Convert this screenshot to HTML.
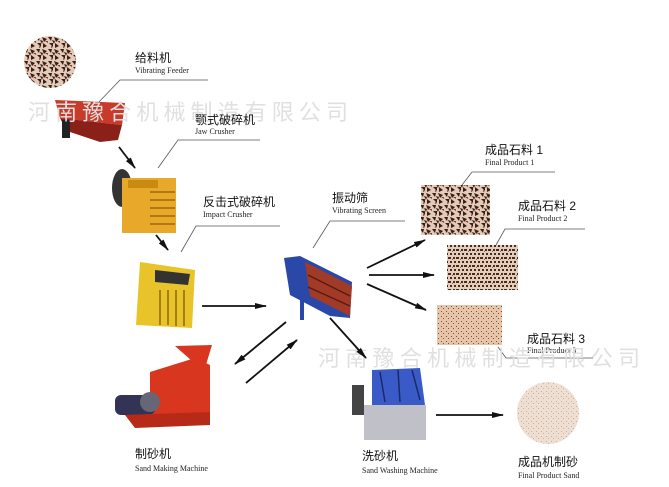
<!DOCTYPE html>
<html><head><meta charset="utf-8"><style>
html,body{margin:0;padding:0;background:#fff;}
svg{display:block;}
.cn{font-family:"Liberation Sans","Noto Sans CJK SC",sans-serif;font-size:12px;fill:#111;}
.en{font-family:"Liberation Serif",serif;font-size:8px;fill:#222;}
.wm{font-family:"Liberation Sans","Noto Sans CJK SC",sans-serif;font-size:22px;fill:#e0e0e0;}
</style></head><body>
<svg width="669" height="487" viewBox="0 0 669 487" xmlns="http://www.w3.org/2000/svg">
<defs>
<pattern id="g1" width="12" height="12" patternUnits="userSpaceOnUse">
<rect width="12" height="12" fill="#e2cbb8"/>
<path d="M0 1l4 0-1 4zM6 1l5 2-3 3zM1 7l4 0 0 4zM7 7l4 3-4 2zM4 4l3 1-1 3z" fill="#3a1f18"/>
<path d="M9 5l3 0 0 2zM3 10l2 1-2 1z" fill="#8a3a2a"/>
</pattern>
<pattern id="g2" width="8" height="8" patternUnits="userSpaceOnUse">
<rect width="8" height="8" fill="#e2cfbb"/>
<path d="M0 1h3v2h-3zM5 1h2v2h-2zM2 5h2v2h-2zM6 5h2v2h-2z" fill="#4a2a1e"/>
<path d="M4 3h1v1h-1z" fill="#9a5a3a"/>
</pattern>
<pattern id="g3" width="5" height="5" patternUnits="userSpaceOnUse">
<rect width="5" height="5" fill="#e5c6aa"/>
<path d="M1 1h1v1h-1zM3 3h1v1h-1z" fill="#8a4a30"/>
</pattern>
<pattern id="g4" width="5" height="5" patternUnits="userSpaceOnUse">
<rect width="5" height="5" fill="#eedfd2"/>
<path d="M1 1h1v1h-1zM3 3h1v1h-1z" fill="#cbb2a0"/>
</pattern>
<marker id="ah" markerWidth="12" markerHeight="6" refX="11" refY="3" orient="auto" markerUnits="userSpaceOnUse"><path d="M0 0L12 3L0 6z" fill="#111"/></marker>
</defs>
<rect width="669" height="487" fill="#fff"/>

<circle cx="50" cy="62" r="26" fill="url(#g1)"/>
<text x="135" y="62" class="cn">给料机</text>
<text x="135" y="73" class="en">Vibrating Feeder</text>
<polyline points="97,104 120,80 208,80" fill="none" stroke="#555" stroke-width="0.8"/>

<polygon points="55,100 125,103 122,125 60,118" fill="#c83a2a"/>
<polygon points="60,118 122,125 118,140 100,142 70,132 65,128" fill="#8a2018"/>
<rect x="62" y="120" width="8" height="18" fill="#222"/>

<text x="28" y="120" class="wm" textLength="320">河南豫合机械制造有限公司</text>

<text x="195" y="124" class="cn">颚式破碎机</text>
<text x="195" y="134" class="en">Jaw Crusher</text>
<polyline points="158,168 178,140 260,140" fill="none" stroke="#555" stroke-width="0.8"/>
<line x1="119" y1="147" x2="135" y2="168" stroke="#111" stroke-width="1.8" marker-end="url(#ah)"/>

<ellipse cx="122" cy="188" rx="10" ry="19" fill="#333"/>
<rect x="122" y="178" width="54" height="55" fill="#e8a82a"/>
<rect x="128" y="180" width="30" height="8" fill="#c88a10"/>
<g stroke="#9a6a10" stroke-width="1.5"><line x1="150" y1="192" x2="175" y2="192"/><line x1="150" y1="200" x2="175" y2="200"/><line x1="150" y1="208" x2="175" y2="208"/><line x1="150" y1="216" x2="175" y2="216"/><line x1="150" y1="224" x2="175" y2="224"/></g>

<text x="203" y="206" class="cn">反击式破碎机</text>
<text x="203" y="217" class="en">Impact Crusher</text>
<polyline points="181,252 196,226 280,226" fill="none" stroke="#555" stroke-width="0.8"/>
<line x1="156" y1="235" x2="168" y2="250" stroke="#111" stroke-width="1.8" marker-end="url(#ah)"/>

<polygon points="140,262 195,270 192,328 136,325" fill="#e8c42a"/>
<polygon points="155,270 190,274 188,285 155,282" fill="#333"/>
<g stroke="#8a6a10" stroke-width="1.5"><line x1="160" y1="290" x2="160" y2="325"/><line x1="168" y1="290" x2="168" y2="325"/><line x1="176" y1="290" x2="176" y2="326"/><line x1="184" y1="290" x2="184" y2="326"/></g>
<line x1="202" y1="306" x2="266" y2="306" stroke="#111" stroke-width="1.8" marker-end="url(#ah)"/>

<text x="332" y="202" class="cn">振动筛</text>
<text x="332" y="213" class="en">Vibrating Screen</text>
<polyline points="313,248 330,221 405,221" fill="none" stroke="#555" stroke-width="0.8"/>
<polygon points="284,258 300,256 352,282 350,318 330,316 290,295" fill="#2a48a8"/>
<polygon points="305,262 352,286 350,316 310,296" fill="#a23a28"/>
<g stroke="#5a1a10" stroke-width="1.5"><line x1="308" y1="275" x2="350" y2="296"/><line x1="308" y1="287" x2="350" y2="306"/></g>
<line x1="302" y1="295" x2="302" y2="320" stroke="#2a48a8" stroke-width="4"/>
<line x1="367" y1="268" x2="425" y2="240" stroke="#111" stroke-width="1.8" marker-end="url(#ah)"/>
<line x1="369" y1="275" x2="434" y2="275" stroke="#111" stroke-width="1.8" marker-end="url(#ah)"/>
<line x1="367" y1="284" x2="426" y2="310" stroke="#111" stroke-width="1.8" marker-end="url(#ah)"/>

<rect x="421" y="185" width="69" height="50" fill="url(#g1)"/>
<text x="485" y="154" class="cn">成品石料 1</text>
<text x="485" y="165" class="en">Final Product 1</text>
<polyline points="462,185 472,172 555,172" fill="none" stroke="#555" stroke-width="0.8"/>
<rect x="447" y="245" width="71" height="45" fill="url(#g2)"/>
<text x="518" y="210" class="cn">成品石料 2</text>
<text x="518" y="221" class="en">Final Product 2</text>
<polyline points="496,245 505,229 585,229" fill="none" stroke="#555" stroke-width="0.8"/>
<rect x="437" y="305" width="65" height="40" fill="url(#g3)"/>
<text x="527" y="343" class="cn">成品石料 3</text>
<text x="527" y="353" class="en">Final Product 3</text>
<polyline points="498,347 506,358 593,358" fill="none" stroke="#555" stroke-width="0.8"/>

<text x="318" y="366" class="wm" textLength="322">河南豫合机械制造有限公司</text>

<line x1="286" y1="322" x2="235" y2="364" stroke="#111" stroke-width="1.8" marker-end="url(#ah)"/>
<line x1="246" y1="383" x2="297" y2="340" stroke="#111" stroke-width="1.8" marker-end="url(#ah)"/>
<line x1="330" y1="318" x2="366" y2="358" stroke="#111" stroke-width="1.8" marker-end="url(#ah)"/>

<polygon points="175,346 212,345 205,368 200,368" fill="#d8361e"/>
<polygon points="150,372 195,358 210,365 210,418 160,425 150,410" fill="#d8361e"/>
<rect x="115" y="395" width="40" height="20" rx="6" fill="#335"/>
<circle cx="150" cy="402" r="10" fill="#667"/>
<polygon points="125,415 210,412 210,425 135,428" fill="#b82a18"/>
<text x="135" y="458" class="cn">制砂机</text>
<text x="135" y="471" class="en">Sand Making Machine</text>

<rect x="352" y="385" width="12" height="30" fill="#444"/>
<polygon points="372,370 420,368 425,405 372,405" fill="#3a5ac8"/>
<g stroke="#1a2a6a" stroke-width="1.5"><line x1="380" y1="372" x2="385" y2="402"/><line x1="398" y1="370" x2="400" y2="402"/><line x1="412" y1="370" x2="420" y2="400"/></g>
<rect x="364" y="405" width="62" height="35" fill="#c0c0c8"/>
<text x="362" y="460" class="cn">洗砂机</text>
<text x="362" y="473" class="en">Sand Washing Machine</text>
<line x1="436" y1="415" x2="503" y2="415" stroke="#111" stroke-width="1.8" marker-end="url(#ah)"/>

<circle cx="548" cy="413" r="31" fill="url(#g4)"/>
<text x="518" y="466" class="cn">成品机制砂</text>
<text x="518" y="478" class="en">Final Product Sand</text>
</svg>
</body></html>
